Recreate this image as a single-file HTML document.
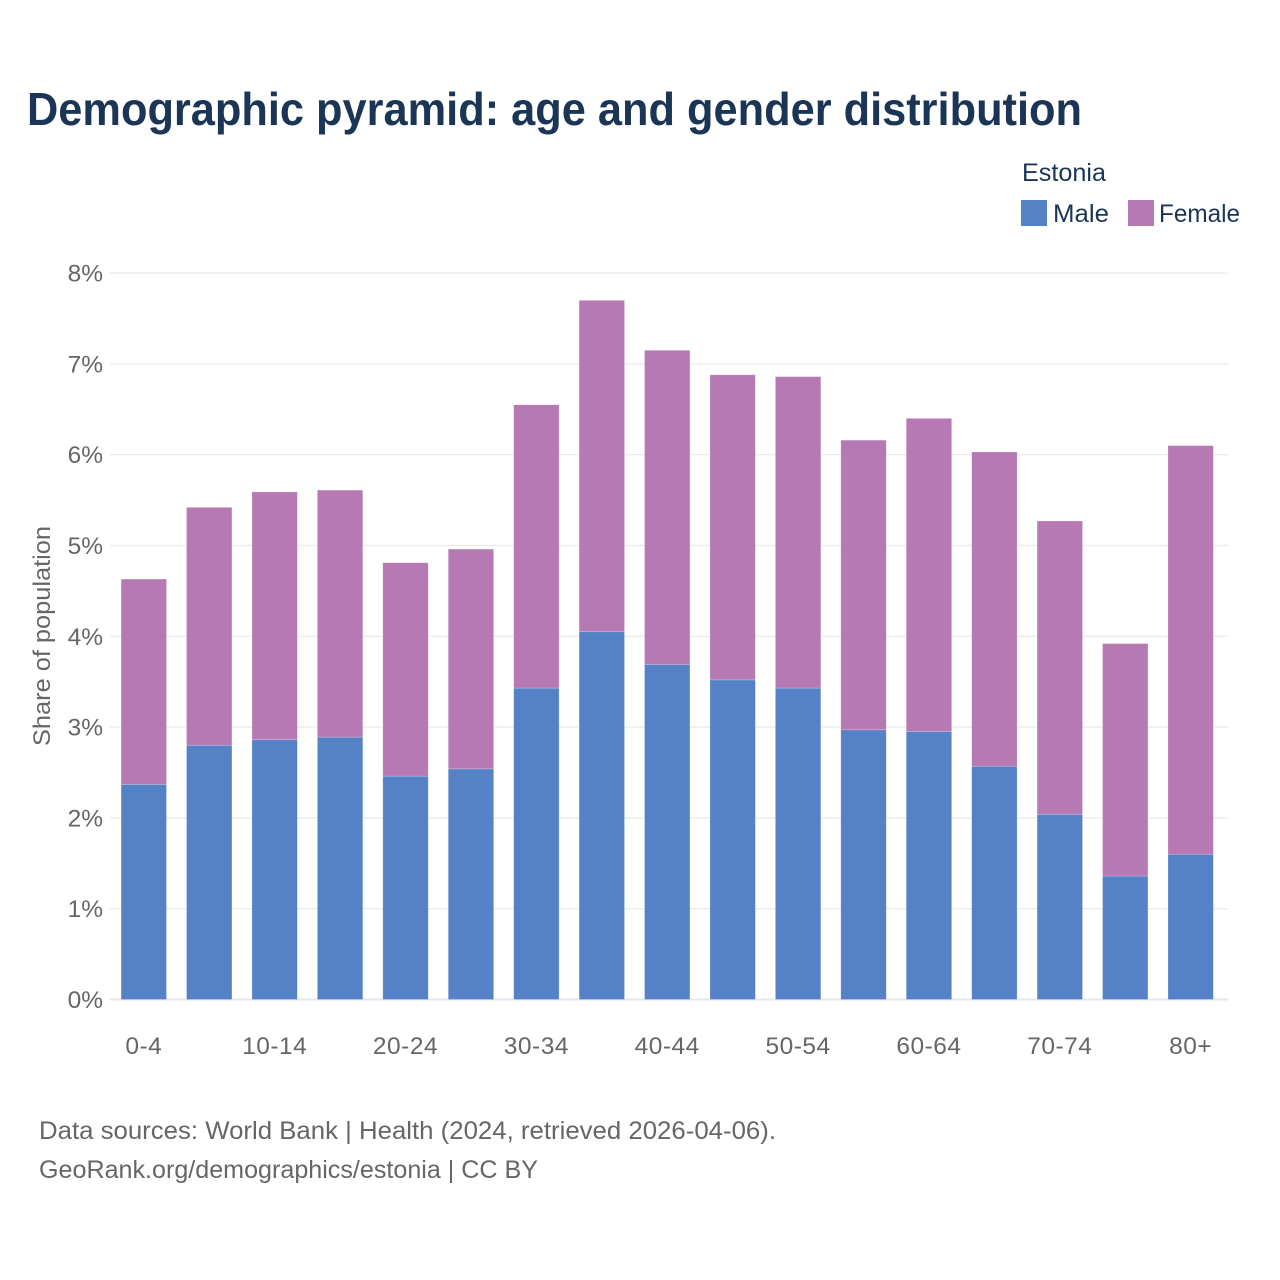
<!DOCTYPE html>
<html lang="en">
<head>
<meta charset="utf-8">
<title>Demographic pyramid: age and gender distribution</title>
<style>
  html, body { margin: 0; padding: 0; background: #ffffff; }
  svg { display: block; font-family: "Liberation Sans", sans-serif; }
</style>
</head>
<body>
<svg id="chart" xmlns="http://www.w3.org/2000/svg" width="1280" height="1280" viewBox="0 0 1280 1280">
  <rect width="1280" height="1280" fill="#ffffff"/>
  <text x="27" y="125" font-size="46" font-weight="700" fill="#1b3556" textLength="1055" lengthAdjust="spacingAndGlyphs">Demographic pyramid: age and gender distribution</text>
  <text x="1022" y="181" font-size="25" fill="#1b3556" textLength="84" lengthAdjust="spacingAndGlyphs">Estonia</text>
  <rect x="1021" y="200" width="26" height="26" fill="#5581c6"/>
  <text x="1053" y="222" font-size="25" fill="#1b3556" textLength="56" lengthAdjust="spacingAndGlyphs">Male</text>
  <rect x="1128" y="200" width="26" height="26" fill="#b679b3"/>
  <text x="1159" y="222" font-size="25" fill="#1b3556" textLength="81" lengthAdjust="spacingAndGlyphs">Female</text>
  <text transform="translate(50,636) rotate(-90)" text-anchor="middle" font-size="24" fill="#666666" textLength="220" lengthAdjust="spacingAndGlyphs">Share of population</text>
  <g id="grid"></g>
  <g id="bars"></g>
  <g id="yticks"></g>
  <g id="xticks"></g>
  <text x="39" y="1139" font-size="25" fill="#666666" textLength="737" lengthAdjust="spacingAndGlyphs">Data sources: World Bank | Health (2024, retrieved 2026-04-06).</text>
  <text x="39" y="1178" font-size="25" fill="#666666" textLength="499" lengthAdjust="spacingAndGlyphs">GeoRank.org/demographics/estonia | CC BY</text>
</svg>
<script>
const categories = ["0-4","5-9","10-14","15-19","20-24","25-29","30-34","35-39","40-44","45-49","50-54","55-59","60-64","65-69","70-74","75-79","80+"];
const maleValues = [2.37,2.80,2.86,2.89,2.46,2.54,3.43,4.05,3.69,3.52,3.43,2.97,2.95,2.57,2.04,1.36,1.60];
const femaleValues = [2.26,2.62,2.73,2.72,2.35,2.42,3.12,3.65,3.46,3.36,3.43,3.19,3.45,3.46,3.23,2.56,4.50];
const yTickValues = [0,1,2,3,4,5,6,7,8];
const xTickLabels = ["0-4","10-14","20-24","30-34","40-44","50-54","60-64","70-74","80+"];

const NS = "http://www.w3.org/2000/svg";
const yScale = v => 999.5 - v * 90.8;
const xCenter = i => 143.8 + i * 65.43;
const barWidth = 45.4;

function make(tag, attrs, parent) {
  const el = document.createElementNS(NS, tag);
  for (const k in attrs) el.setAttribute(k, attrs[k]);
  parent.appendChild(el);
  return el;
}

const gridG = document.getElementById("grid");
const barsG = document.getElementById("bars");
const yG = document.getElementById("yticks");
const xG = document.getElementById("xticks");

yTickValues.forEach(v => {
  const line = make("line", {x1: 110, x2: 1228, y1: yScale(v), y2: yScale(v), stroke: v === 0 ? "#e6e6ee" : "#ebebeb", "stroke-width": v === 0 ? 2 : 1.4}, gridG);
  
  
  const label = make("text", {x: 103, y: yScale(v) + 8.5, "text-anchor": "end", "font-size": 24.5, fill: "#666666"}, yG);
  label.textContent = v + "%";
  
  
});

categories.forEach((c, i) => {
  const x = xCenter(i) - barWidth / 2;
  const m = maleValues[i];
  const f = femaleValues[i];
  const maleBar = make("rect", {x: x, y: yScale(m), width: barWidth, height: yScale(0) - yScale(m), fill: "#5581c6", stroke: "#ffffff", "stroke-opacity": 0.35, "stroke-width": 0.6}, barsG);
  
  
  const femaleBar = make("rect", {x: x, y: yScale(m + f), width: barWidth, height: yScale(m) - yScale(m + f), fill: "#b679b3", stroke: "#ffffff", "stroke-opacity": 0.35, "stroke-width": 0.6}, barsG);
  
  
  if (xTickLabels.includes(c)) {
    const label = make("text", {x: xCenter(i), y: 1054, "text-anchor": "middle", "font-size": 24.5, "letter-spacing": 0.5, fill: "#666666"}, xG);
    label.textContent = c;
    
    
  }
});
</script>
</body>
</html>
